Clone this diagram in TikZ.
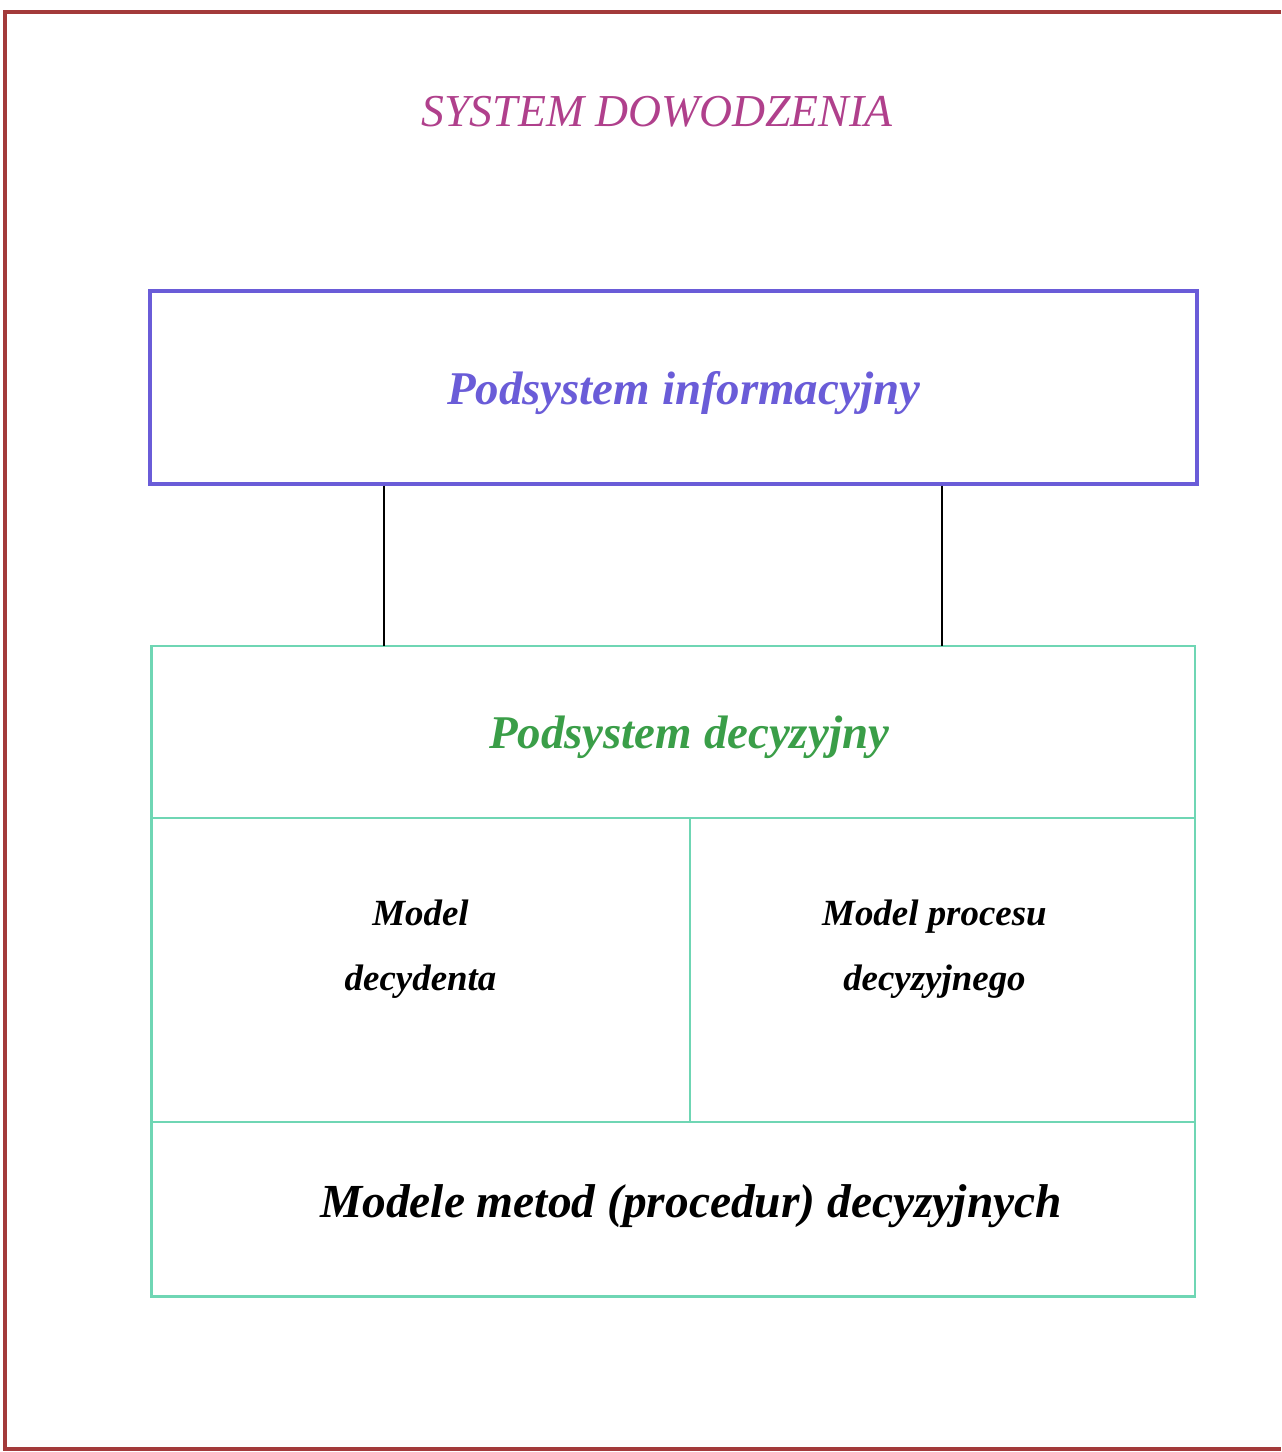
\documentclass[tikz,border=0pt]{standalone}
\usepackage{fontspec}
\setmainfont{Liberation Serif}
\usepackage{xcolor}
\definecolor{sdframe}{HTML}{A33A3A}
\definecolor{sdtitle}{HTML}{B0408C}
\definecolor{sdblue}{HTML}{6A5CD8}
\definecolor{sdgreen}{HTML}{6FD6B4}
\definecolor{sdgreentext}{HTML}{3A9E48}
\usetikzlibrary{positioning,calc}

\begin{document}
\begin{tikzpicture}[
  x=0.02cm, y=-0.02cm,
  frame/.style={draw=sdframe, line width=1.8pt},
  infobox/.style={draw=sdblue, line width=1.9pt, minimum width=20.94cm,
                  minimum height=3.86cm, inner sep=0pt},
  greenbox/.style={draw=sdgreen, line width=1.6pt, inner sep=0pt, outer sep=0pt},
  cell/.style={greenbox, minimum width=#1, minimum height=6.08cm},
  head/.style={font=\fontsize{26.7}{30}\selectfont\bfseries\itshape},
  label/.style={align=center, font=\fontsize{21}{37}\selectfont\bfseries\itshape},
  link/.style={draw=black, line width=1.3pt}
]
  \useasboundingbox (0,0) rectangle (1281,1452);
  \fill[white] (0,0) rectangle (1281,1452);
  % page frame
  \draw[frame] (1281,12) -- (5,12) -- (5,1449) -- (1281,1449);

  % title
  \node[font=\fontsize{26}{30}\selectfont\itshape, text=sdtitle] (title)
       at (657,112) {SYSTEM DOWODZENIA};

  % information subsystem
  \node[infobox] (info) at (673.5,387.5) {};
  \node[head, text=sdblue] (infotext)
       at ([xshift=10*0.02cm, yshift=-6*0.02cm]info.center) {Podsystem informacyjny};

  % decision subsystem
  \node[greenbox, minimum width=20.88cm, minimum height=3.44cm] (decyz) at (673,732) {};
  \node[head, text=sdgreentext] (decyztext) at (689,737) {Podsystem decyzyjny};
  \node[cell=10.78cm, anchor=north west] (decydent) at (decyz.south west) {};
  \node[cell=10.1cm, anchor=north east] (proces) at (decyz.south east) {};
  \node[greenbox, minimum width=20.88cm, minimum height=3.5cm, anchor=north]
       (metody) at (decydent.south west -| decyz.south) {};

  \node[label] (decydenttext) at ([yshift=21*0.02cm]decydent.center)
       {Model\\decydenta};
  \node[label] (procestext) at ([xshift=-8*0.02cm, yshift=21*0.02cm]proces.center)
       {Model procesu\\decyzyjnego};
  \node[font=\fontsize{27}{30}\selectfont\bfseries\itshape] (metodytext)
       at ([xshift=18*0.02cm, yshift=3*0.02cm]metody.center)
       {Modele metod (procedur) decyzyjnych};

  % connections
  \coordinate (l1) at (384,0);
  \coordinate (l2) at (942,0);
  \draw[link] (info.south -| l1) -- (decyz.north -| l1);
  \draw[link] (info.south -| l2) -- (decyz.north -| l2);
\end{tikzpicture}
\end{document}
